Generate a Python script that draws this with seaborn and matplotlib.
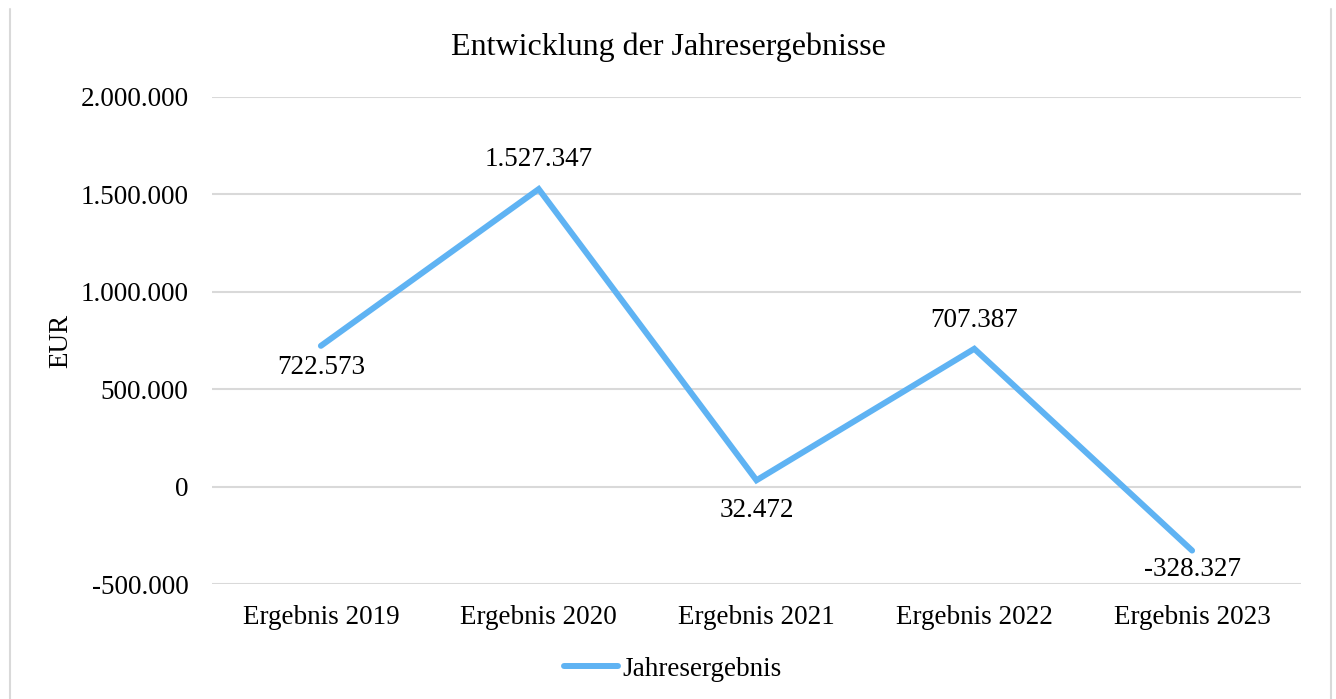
import matplotlib
matplotlib.use("Agg")
import matplotlib.pyplot as plt
import seaborn as sns
import pandas as pd
from matplotlib.ticker import FuncFormatter, FixedLocator
from matplotlib.lines import Line2D

categories = ["Ergebnis 2019", "Ergebnis 2020", "Ergebnis 2021", "Ergebnis 2022", "Ergebnis 2023"]
values = [722573, 1527347, 32472, 707387, -328327]
series_name = "Jahresergebnis"
yticks = [-500000, 0, 500000, 1000000, 1500000, 2000000]

# label offsets (pixels, positive = above) - styling only
label_offsets_px = [-22, 30, -30, 28, -19]

sns.set_theme(style="white")
plt.rcParams['font.family'] = ['Liberation Serif', 'DejaVu Serif']

df = pd.DataFrame({"Kategorie": categories, "Wert": values})
df["x"] = range(len(categories))

fig = plt.figure(figsize=(13.36, 6.99), dpi=100)
ax = fig.add_axes([212/1336, 1-584/699, (1301-212)/1336, (584-97)/699])

color = "#5FB3F3"
FS = 19.5
sns.lineplot(data=df, x="x", y="Wert", ax=ax, color=color, linewidth=4.3,
             solid_capstyle="round", solid_joinstyle="miter", legend=False, zorder=3)

def fmt(v):
    s = f"{abs(int(round(v))):,}".replace(",", ".")
    return ("-" if v < 0 else "") + s

for i, (v, off) in enumerate(zip(values, label_offsets_px)):
    ax.annotate(fmt(v), (i, v), xytext=(0, off * 0.72), textcoords="offset points",
                ha="center", va="center", fontsize=FS, color="#000000")

ax.set_xlim(-0.5, len(categories) - 0.5)
ax.set_ylim(-500000, 2000000)
ax.yaxis.set_major_locator(FixedLocator(yticks))
ax.yaxis.set_major_formatter(FuncFormatter(lambda v, p: fmt(v)))
ax.set_xticks(range(len(categories)))
ax.set_xticklabels(categories)
ax.tick_params(axis="both", length=0, labelsize=FS, colors="#000000")
ax.tick_params(axis="y", pad=17)
ax.tick_params(axis="x", pad=15)
ax.grid(axis="y", color="#D9D9D9", linewidth=1.5)
ax.grid(axis="x", visible=False)
for s in ax.spines.values():
    s.set_visible(False)
ax.set_xlabel("")
ax.set_ylabel("EUR", fontsize=FS, color="#000000", labelpad=0)
ax.yaxis.label.set_verticalalignment("center")
ax.yaxis.set_label_coords((61 - 212) / (1301 - 212), 0.5)

fig.suptitle("Entwicklung der Jahresergebnisse", x=0.5, y=1-47/699,
             va="center", fontsize=23, color="#000000")

handle = Line2D([0], [0], color=color, linewidth=4.3, solid_capstyle="round")
fig.legend([handle], [series_name], loc="center", bbox_to_anchor=(673/1336, 1-669/699),
           frameon=False, fontsize=FS, handlelength=2.0, handletextpad=0.15, labelcolor="#000000")

# figure border (left/right visible)
fig.add_artist(Line2D([10/1336, 10/1336], [0, 1-9/699], transform=fig.transFigure, color="#D9D9D9", linewidth=1.5))
fig.add_artist(Line2D([1331/1336, 1331/1336], [0, 1-9/699], transform=fig.transFigure, color="#D9D9D9", linewidth=1.5))

fig.savefig("out.png", dpi=100)
